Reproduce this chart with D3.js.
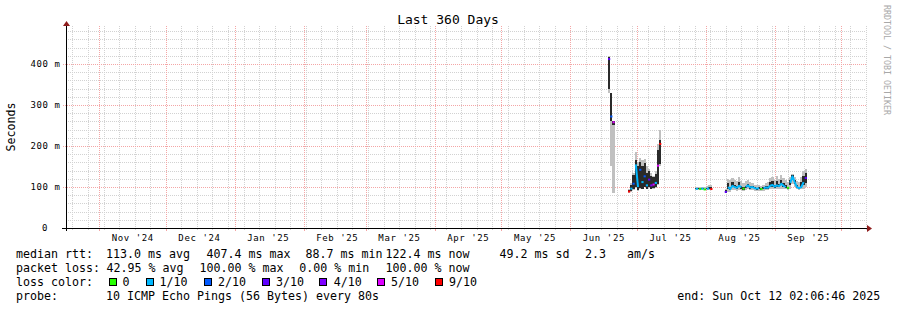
<!DOCTYPE html>
<html><head><meta charset="utf-8">
<script src="https://cdn.jsdelivr.net/npm/d3@7"></script>
<style>
html,body{margin:0;padding:0;background:#fff;}
svg{display:block;background:#fff;}
text{font-family:"DejaVu Sans Mono",monospace;fill:#000;}
</style></head><body>
<svg id="c" width="897" height="310"></svg>
<script>
// ---------------- DATA ----------------
const chartTitle = "Last 360 Days";
const yAxisTitle = "Seconds";
const watermark = "RRDTOOL / TOBI OETIKER";
const endTime = "2025-10-12T02:06:46";
const spanDays = 360;
const yMax = 0.4878;                       // seconds at top of plot
const yTicks = [0, 0.1, 0.2, 0.3, 0.4];
const yTickLabels = ["0", "100 m", "200 m", "300 m", "400 m"];
const xTickMonths = ["2024-11-01","2024-12-01","2025-01-01","2025-02-01","2025-03-01","2025-04-01","2025-05-01","2025-06-01","2025-07-01","2025-08-01","2025-09-01"];
const xTickLabels = ["Nov '24","Dec '24","Jan '25","Feb '25","Mar '25","Apr '25","May '25","Jun '25","Jul '25","Aug '25","Sep '25"];

// samples (median rtt in ms, loss out of 10, smoke range, dense core of smoke)
const sampleTimes = [
 "2025-06-18T12:00","2025-06-19T12:00","2025-06-20T12:00",
 "2025-06-27T12:00","2025-06-28T12:00","2025-06-29T12:00","2025-06-30T12:00","2025-07-01T12:00","2025-07-02T12:00","2025-07-03T12:00","2025-07-04T12:00","2025-07-05T12:00","2025-07-06T12:00","2025-07-07T12:00","2025-07-08T12:00","2025-07-09T12:00","2025-07-10T12:00","2025-07-11T12:00",
 "2025-07-27T12:00","2025-07-28T12:00","2025-07-29T12:00","2025-07-30T12:00","2025-07-31T12:00","2025-08-01T12:00","2025-08-02T12:00","2025-08-03T12:00",
 "2025-08-10T00:00","2025-08-11T00:00","2025-08-12T00:00","2025-08-13T00:00","2025-08-14T00:00","2025-08-15T00:00","2025-08-16T00:00","2025-08-17T00:00","2025-08-18T00:00","2025-08-19T00:00","2025-08-20T00:00","2025-08-21T00:00","2025-08-22T00:00","2025-08-23T00:00","2025-08-24T00:00","2025-08-25T00:00","2025-08-26T00:00","2025-08-27T00:00","2025-08-28T00:00","2025-08-29T00:00","2025-08-30T00:00","2025-08-31T00:00","2025-09-01T00:00","2025-09-02T00:00","2025-09-03T00:00","2025-09-04T00:00","2025-09-05T00:00","2025-09-06T00:00","2025-09-07T00:00","2025-09-08T00:00","2025-09-09T00:00","2025-09-10T00:00","2025-09-11T00:00","2025-09-12T00:00","2025-09-13T00:00","2025-09-14T00:00","2025-09-15T00:00"];
const medianMs = [
 412,272,258,
 89,96,108,155,100,142,112,126,104,118,104,106,110,152,205,
 95,96,95,96,94,95,97,95,
 88,100,95,103,100,98,103,99,96,100,104,99,100,97,96,97,95,97,99,98,103,105,101,104,102,108,103,100,98,110,126,112,100,97,100,112,122];
const lossCount = [
 3,2,5,
 9,1,2,1,1,2,1,2,1,3,4,5,1,5,9,
 1,1,0,1,0,1,1,9,
 3,1,1,1,1,1,1,1,0,1,1,1,1,1,1,1,0,1,1,1,1,1,1,1,1,1,1,1,0,1,1,1,1,1,1,1,3];
const smokeMin = [
 330,150,85,
 86,88,92,98,90,95,95,100,94,98,95,96,98,105,150,
 92,93,92,93,92,92,93,92,
 85,88,88,92,92,90,92,92,90,92,94,92,92,90,90,90,90,91,92,92,94,95,94,95,94,96,95,94,92,96,108,100,94,92,94,96,100];
const smokeMax = [
 420,330,262,
 95,110,135,185,160,170,165,168,150,145,135,128,140,205,240,
 100,100,99,101,99,102,106,106,
 95,120,118,122,118,115,125,115,110,114,118,112,110,106,104,105,103,106,110,112,122,125,118,128,120,130,122,118,112,125,132,124,115,112,125,138,145];
const coreMin = [
 340,262,250,
 87,90,94,100,92,98,96,100,95,100,96,98,100,108,155,
 94,95,94,95,93,94,96,94,
 86,95,92,99,97,95,99,96,93,97,100,96,97,94,93,94,92,94,96,95,99,101,98,100,99,104,100,97,95,105,120,107,97,94,97,106,110];
const coreMax = [
 418,330,262,
 93,105,130,165,150,160,150,158,135,138,128,124,132,190,215,
 97,98,97,98,96,98,100,99,
 92,110,100,112,104,102,112,102,99,103,108,102,103,99,98,99,97,100,103,102,112,115,106,115,108,118,110,104,101,118,130,116,104,101,112,126,135];

const lossLevels = [0,1,2,3,4,5,9];
const lossLabels = ["0","1/10","2/10","3/10","4/10","5/10","9/10"];
const lossColors = ["#26ff00","#00b8ff","#0059ff","#5e00ff","#7e00ff","#dd00ff","#ff0000"];

const rttStats = ["113.0 ms avg","407.4 ms max","88.7 ms min","122.4 ms now","49.2 ms sd","2.3","am/s"];
const lossStats = ["42.95 % avg","100.00 % max","0.00 % min","100.00 % now"];
const probeText = "10 ICMP Echo Pings (56 Bytes) every 80s";
const endText = "end: Sun Oct 12 02:06:46 2025";

// ---------------- LAYOUT ----------------
const svg = d3.select("#c");
const plotL = 66, plotR = 866, plotB = 228, plotT = 28;
const end = new Date(endTime);
const start = d3.timeDay.offset(end, -spanDays);
const x = d3.scaleTime().domain([start, end]).range([plotL, plotR]);
const y = d3.scaleLinear().domain([0, yMax]).range([plotB, plotT]);
const px = v => Math.round(v) + 0.5;

const minorCol = "#d2d2d2", majorCol = "#f4a6a6";

// grid
const grid = svg.append("g").attr("shape-rendering", "crispEdges");
const yMinor = d3.range(1, 25).map(i => i * 0.02).filter(v => Math.abs(v * 10 - Math.round(v * 10)) > 1e-6);
grid.selectAll(".hmin").data(yMinor).join("line")
  .attr("x1", plotL).attr("x2", plotR)
  .attr("y1", d => px(y(d))).attr("y2", d => px(y(d)))
  .attr("stroke", minorCol).attr("stroke-dasharray", "1,1");
const weeks = d3.timeSunday.range(start, end);
grid.selectAll(".vmin").data(weeks).join("line")
  .attr("x1", d => px(x(d))).attr("x2", d => px(x(d)))
  .attr("y1", 26).attr("y2", plotB)
  .attr("stroke", minorCol).attr("stroke-dasharray", "1,1");
const months = d3.timeMonth.range(d3.timeMonth.ceil(start), end);
grid.selectAll(".vmaj").data(months).join("line")
  .attr("x1", d => px(x(d))).attr("x2", d => px(x(d)))
  .attr("y1", 26).attr("y2", plotB)
  .attr("stroke", majorCol).attr("stroke-dasharray", "1,1");
grid.selectAll(".hmaj").data(yTicks.slice(1)).join("line")
  .attr("x1", plotL - 3).attr("x2", plotR)
  .attr("y1", d => px(y(d))).attr("y2", d => px(y(d)))
  .attr("stroke", majorCol).attr("stroke-dasharray", "1,1");
// axis ticks
grid.selectAll(".tw").data(weeks).join("line")
  .attr("x1", d => px(x(d))).attr("x2", d => px(x(d)))
  .attr("y1", plotB).attr("y2", plotB + 2).attr("stroke", minorCol);
grid.selectAll(".tm").data(months).join("line")
  .attr("x1", d => px(x(d))).attr("x2", d => px(x(d)))
  .attr("y1", plotB).attr("y2", plotB + 3).attr("stroke", majorCol);

// samples
const samples = sampleTimes.map((t, i) => ({
  t: new Date(t), med: medianMs[i] / 1000, loss: lossCount[i],
  smin: smokeMin[i] / 1000, smax: smokeMax[i] / 1000,
  cmin: coreMin[i] / 1000, cmax: coreMax[i] / 1000
}));
const halfStep = 12 * 3600 * 1000;
const smoke = svg.append("g").attr("shape-rendering", "crispEdges");
samples.forEach(s => {
  const x0 = Math.round(x(new Date(+s.t - halfStep)));
  const x1 = Math.round(x(new Date(+s.t + halfStep)));
  smoke.append("rect").attr("x", x0).attr("width", Math.max(1, x1 - x0))
    .attr("y", Math.round(y(s.smax))).attr("height", Math.max(1, Math.round(y(s.smin)) - Math.round(y(s.smax))))
    .attr("fill", "#c0c0c0");
  smoke.append("rect").attr("x", x0).attr("width", Math.max(1, x1 - x0))
    .attr("y", Math.round(y(s.cmax))).attr("height", Math.max(1, Math.round(y(s.cmin)) - Math.round(y(s.cmax))))
    .attr("fill", "#2a2a2a");
});

// median line, coloured by loss (runs of equal loss are connected)
const runs = [];
samples.forEach((s, i) => {
  const prev = samples[i - 1];
  if (prev && prev.loss === s.loss && (+s.t - +prev.t) <= 1.5 * 86400000) runs[runs.length - 1].push(s);
  else runs.push([s]);
});
const lineGen = d3.line().x(d => x(d.t)).y(d => y(d.med));
const medG = svg.append("g");
runs.forEach(r => {
  const col = lossColors[lossLevels.indexOf(r[0].loss)];
  if (r.length > 1) {
    medG.append("path").attr("d", lineGen(r)).attr("fill", "none")
      .attr("stroke", col).attr("stroke-width", 2).attr("stroke-linejoin", "round");
  } else {
    const s = r[0];
    medG.append("line").attr("x1", x(s.t) - 1.1).attr("x2", x(s.t) + 1.1)
      .attr("y1", y(s.med)).attr("y2", y(s.med)).attr("stroke", col).attr("stroke-width", 2);
  }
});

// axes
const ax = svg.append("g").attr("shape-rendering", "crispEdges");
ax.append("line").attr("x1", plotL - 4).attr("x2", plotR + 2).attr("y1", plotB + 0.5).attr("y2", plotB + 0.5).attr("stroke", "#000");
ax.append("line").attr("x1", plotL + 0.5).attr("x2", plotL + 0.5).attr("y1", plotB + 3).attr("y2", 25).attr("stroke", "#000");
svg.append("path").attr("d", `M${plotR + 1},${plotB - 3}L${plotR + 6},${plotB + 0.5}L${plotR + 1},${plotB + 4}Z`).attr("fill", "#8e1c1c");
svg.append("path").attr("d", `M${plotL - 3},26L${plotL + 0.5},21L${plotL + 4},26Z`).attr("fill", "#8e1c1c");

// y tick labels
const yLab = svg.append("g").style("font-size", "9px").style("letter-spacing", "0.6px");
yTicks.forEach((v, i) => {
  const isZero = v === 0;
  yLab.append("text").attr("x", isZero ? 48 : 60.5).attr("y", y(v) + 3.3)
    .attr("text-anchor", "end").text(yTickLabels[i]);
});
// x tick labels (centred in the month, as rrdtool does)
const xLab = svg.append("g").style("font-size", "9px").style("letter-spacing", "0.6px");
xTickMonths.forEach((m, i) => {
  const c = d3.timeDay.offset(new Date(m + "T00:00"), 15);
  xLab.append("text").attr("x", x(c) + 0.3).attr("y", 241).attr("text-anchor", "middle").text(xTickLabels[i]);
});

// titles
svg.append("text").attr("x", 448).attr("y", 24).attr("text-anchor", "middle").style("font-size", "13px").text(chartTitle);
svg.append("text").attr("transform", "translate(15,127) rotate(-90)").attr("text-anchor", "middle").style("font-size", "11.6px").text(yAxisTitle);
svg.append("text").attr("transform", "translate(883.5,5) rotate(90)").style("font-size", "8.3px").style("fill", "#a8a8a8").text(watermark);

// legend
const leg = svg.append("g").style("font-size", "11.63px");
const rowY = [258, 272, 286, 300];
const rttX = [106, 206.5, 305.5, 385.5, 499.4, 585, 627];
const lossX = [106.5, 199.5, 299.2, 385.5];
const boxX = [109, 146, 204, 262, 319, 377, 435];
const boxLabelX = [122.5, 159.5, 218, 276, 333.7, 391, 449];
leg.append("text").attr("x", 16).attr("y", rowY[0]).text("median rtt:");
rttStats.forEach((s, i) => leg.append("text").attr("x", rttX[i]).attr("y", rowY[0]).text(s));
leg.append("text").attr("x", 16).attr("y", rowY[1]).text("packet loss:");
lossStats.forEach((s, i) => leg.append("text").attr("x", lossX[i]).attr("y", rowY[1]).text(s));
leg.append("text").attr("x", 16).attr("y", rowY[2]).text("loss color:");
lossLabels.forEach((s, i) => {
  leg.append("rect").attr("x", boxX[i] + 0.5).attr("y", rowY[2] - 7.5).attr("width", 7).attr("height", 7)
    .attr("fill", lossColors[i]).attr("stroke", "#000").attr("shape-rendering", "crispEdges");
  leg.append("text").attr("x", boxLabelX[i]).attr("y", rowY[2]).text(s);
});
leg.append("text").attr("x", 16).attr("y", rowY[3]).text("probe:");
leg.append("text").attr("x", 106).attr("y", rowY[3]).text(probeText);
leg.append("text").attr("x", 677.2).attr("y", rowY[3]).text(endText);
</script>
</body></html>
